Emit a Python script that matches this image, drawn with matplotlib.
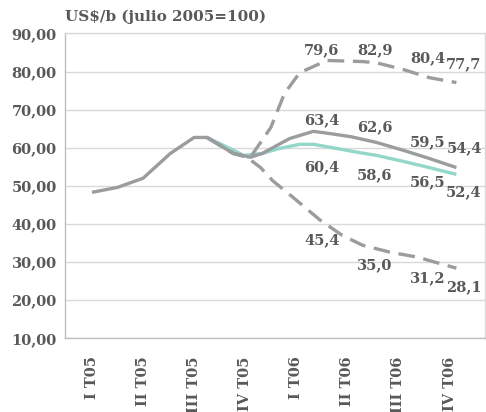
import matplotlib
matplotlib.use("Agg")
import matplotlib.pyplot as plt
import numpy as np

# x positions in months from Jan 2005 (label "I T05" = 0)
QUARTERS = ["I T05", "II T05", "III T05", "IV T05", "I T06", "II T06", "III T06", "IV T06"]
Q_POS    = [0, 3, 6, 9, 12, 15, 18, 21]

base_m   = [0, 1.5, 3, 4.6, 6, 6.75, 8.3, 9.3, 10, 11.6, 13, 14, 15.2, 16.7, 18.3, 19.8, 21.4]
base_v   = [48.3, 49.6, 52.0, 58.5, 62.7, 62.7, 58.5, 57.5, 58.5, 62.4, 64.3, 63.7, 62.9, 61.4, 59.3, 57.2, 54.8]

teal_m   = [6.75, 8.1, 8.9, 10.0, 11.0, 12.2, 13.0, 14.0, 15.6, 16.7, 18.3, 19.8, 21.4]
teal_v   = [62.7, 59.8, 58.0, 58.5, 59.8, 60.9, 60.9, 60.1, 58.8, 58.0, 56.4, 54.8, 53.0]

high_m   = [6.75, 8.3, 9.3, 10.5, 11.3, 12.2, 13.8, 15.9, 16.7, 18.3, 19.8, 21.4]
high_v   = [62.7, 58.5, 57.5, 65.3, 74.2, 79.7, 82.9, 82.6, 82.3, 80.5, 78.4, 77.1]

low_m    = [6.75, 8.3, 9.1, 9.9, 10.6, 11.8, 13.4, 14.7, 15.9, 17.5, 19.1, 21.4]
low_v    = [62.7, 58.5, 57.5, 54.8, 51.4, 47.0, 41.0, 37.0, 34.4, 32.6, 31.3, 28.4]

# quarterly averages shown as data labels
high_lbl = [79.6, 82.9, 80.4, 77.7]
base_lbl = [63.4, 62.6, 59.5, 54.4]
teal_lbl = [60.4, 58.6, 56.5, 52.4]
low_lbl  = [45.4, 35.0, 31.2, 28.1]

LBL_X    = [13.5, 16.6, 19.7, 21.85]
HIGH_Y   = [85.5, 85.5, 83.6, 81.8]
BASE_Y   = [67.2, 65.3, 61.4, 59.8]
TEAL_Y   = [54.9, 52.8, 51.0, 48.4]
LOW_Y    = [35.7, 29.2, 25.8, 23.4]

GRAY  = "#9b9c9e"
TEAL  = "#93d6ca"
TXT   = "#595959"
FONT  = "DejaVu Serif"

plt.rcParams["font.family"] = FONT
plt.rcParams["font.weight"] = "bold"

fig = plt.figure(figsize=(4.86, 4.12), dpi=100)
ax = fig.add_axes([65/486, 1 - 338.3/412, 420/486, (338.3 - 33.4)/412])

ax.plot(teal_m, teal_v, color=TEAL, lw=2.4, solid_capstyle="butt", zorder=3)
ax.plot(base_m, base_v, color=GRAY, lw=2.4, solid_capstyle="butt", zorder=4)
for m, v in [(high_m, high_v), (low_m, low_v)]:
    ax.plot(m, v, color=GRAY, lw=2.4, dashes=(5, 2.6), dash_capstyle="butt", zorder=5)

for xs, ys, vals in [(LBL_X, HIGH_Y, high_lbl), (LBL_X, BASE_Y, base_lbl),
                     (LBL_X, TEAL_Y, teal_lbl), (LBL_X, LOW_Y, low_lbl)]:
    for x, y, v in zip(xs, ys, vals):
        ax.text(x, y, f"{v:.1f}".replace(".", ","), ha="center", va="center",
                fontsize=10.5, color=TXT, zorder=6)

ax.set_xlim(-1.585, 23.08)
ax.set_ylim(10, 90)
ax.set_yticks(np.arange(10, 91, 10))
ax.set_yticklabels([f"{t:.2f}".replace(".", ",") for t in np.arange(10, 91, 10)])
ax.set_xticks(Q_POS)
ax.set_xticklabels(QUARTERS, rotation=90)
ax.tick_params(axis="both", length=0, labelsize=10.5, labelcolor=TXT)
ax.tick_params(axis="y", pad=6)
ax.tick_params(axis="x", pad=13)
ax.grid(axis="y", color="#d9d9d9", lw=1)
ax.set_axisbelow(True)
for side, sp in ax.spines.items():
    sp.set_color("#d9d9d9")
    sp.set_linewidth(1)
ax.spines["left"].set_color("#bfbfbf")
ax.spines["bottom"].set_color("#bfbfbf")

fig.text(65/486, 1 - 17/412, "US$/b (julio 2005=100)", ha="left", va="center",
         fontsize=11, color=TXT, fontweight="bold")

fig.savefig("out.png", dpi=100)
